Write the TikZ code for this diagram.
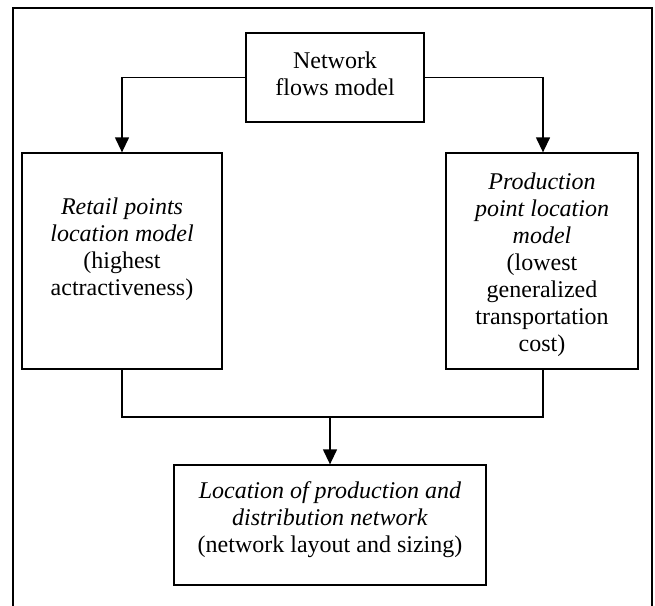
\documentclass[tikz,border=0pt]{standalone}
\usepackage{fontspec}
\setmainfont{Liberation Serif}
\usetikzlibrary{arrows.meta}
\begin{document}
\begin{tikzpicture}[x=1pt,y=-1pt,
  box/.style={draw=black,line width=1.3pt,inner sep=0pt},
  txt/.style={align=center,inner sep=0pt,font=\fontsize{24}{27}\selectfont},
  conn/.style={line width=1.3pt},
  arr/.style={line width=1.3pt,-{Triangle[length=15pt,width=14pt]}},
  frame/.style={line width=1.8pt}]
\useasboundingbox (0,0) rectangle (655,605);
% outer frame (open at bottom)
\coordinate (f1) at (13,606);
\coordinate (f2) at (13,8);
\coordinate (f3) at (652,8);
\coordinate (f4) at (652,606);
\draw[frame] (f1) -- (f2) -- (f3) -- (f4);
% boxes
\node[box,minimum width=178pt,minimum height=89pt] (top) at (335,77.5) {};
\node[box,minimum width=200pt,minimum height=216pt] (left) at (122,261) {};
\node[box,minimum width=192pt,minimum height=216pt] (right) at (542,261) {};
\node[box,minimum width=312pt,minimum height=120pt] (bot) at (330,525) {};
% texts
\node[txt] (ttop) at (335,74) {Network\\flows model};
\node[txt] (tleft) at (122,249) {\textit{Retail points}\\\textit{location model}\\(highest\\actractiveness)};
\node[txt] (tright) at (542,264.5) {\textit{Production}\\\textit{point location}\\\textit{model}\\(lowest\\generalized\\transportation\\cost)};
\node[txt] (tbot) at (330,520) {\textit{Location of production and}\\\textit{distribution network}\\(network layout and sizing)};
% connectors
\coordinate (ja) at (122,77.5);
\coordinate (jb) at (543,77.5);
\draw[arr] (top.west) -- (ja) -- (left.north);
\draw[arr] (top.east) -- (jb) -- (jb |- right.north);
\coordinate (jl) at (122,417);
\coordinate (jr) at (543,417);
\coordinate (jm) at (330,417);
\draw[conn] (left.south) -- (jl) -- (jr) -- (jr |- right.south);
\draw[arr] (jm) -- (bot.north);
\end{tikzpicture}
\end{document}
